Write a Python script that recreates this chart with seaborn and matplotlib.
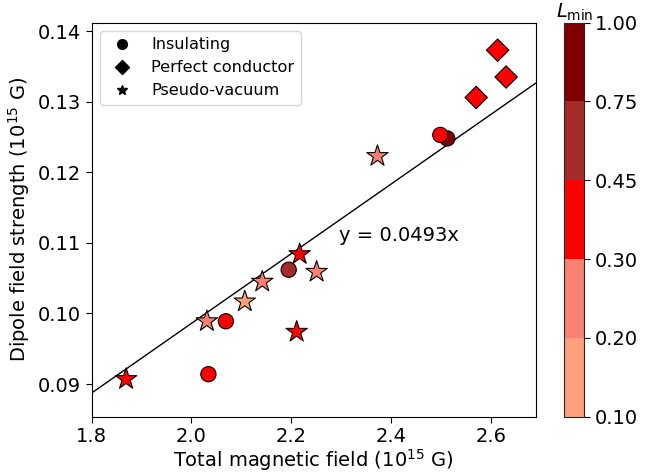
import numpy as np
import pandas as pd
import matplotlib
matplotlib.use("Agg")
import matplotlib.pyplot as plt
import matplotlib.colors as mcolors
from matplotlib.cm import ScalarMappable
from matplotlib.lines import Line2D
import seaborn as sns

# total field (1e15 G), dipole field (1e15 G), L_min, boundary model
ins_b = [2.034, 2.069, 2.195, 2.513, 2.499]
ins_d = [0.0914, 0.0989, 0.1062, 0.1248, 0.1253]
ins_l = [0.35, 0.35, 0.60, 0.90, 0.35]

pc_b = [2.614, 2.631, 2.571]
pc_d = [0.1373, 0.1335, 0.1306]
pc_l = [0.35, 0.35, 0.35]

pv_b = [1.869, 2.031, 2.107, 2.142, 2.217, 2.251, 2.211, 2.373]
pv_d = [0.0907, 0.0989, 0.1017, 0.1045, 0.1084, 0.1059, 0.0974, 0.1223]
pv_l = [0.35, 0.25, 0.15, 0.25, 0.35, 0.25, 0.35, 0.25]

slope = 0.0493
bounds = [0.10, 0.20, 0.30, 0.45, 0.75, 1.00]
colors = ["lightsalmon", "salmon", "red", "brown", "maroon"]

df = pd.concat([
    pd.DataFrame({"B": ins_b, "D": ins_d, "L": ins_l, "model": "Insulating"}),
    pd.DataFrame({"B": pc_b, "D": pc_d, "L": pc_l, "model": "Perfect conductor"}),
    pd.DataFrame({"B": pv_b, "D": pv_d, "L": pv_l, "model": "Pseudo-vacuum"}),
], ignore_index=True)

cmap = mcolors.ListedColormap(colors)
norm = mcolors.BoundaryNorm(bounds, cmap.N)
pal = {v: cmap(norm(v)) for v in df["L"].unique()}

sns.set_style("ticks")
plt.rcParams["font.family"] = ["DejaVu Sans"]
for k in ["text.color", "axes.labelcolor", "xtick.color", "ytick.color"]:
    plt.rcParams[k] = "black"

fig = plt.figure(figsize=(6.62, 4.72), dpi=100)
ax = fig.add_axes([0.1385, 0.117, 0.6705, 0.835])
cax = fig.add_axes([0.8524, 0.117, 0.0302, 0.835])

markers = {"Insulating": "o", "Perfect conductor": "D", "Pseudo-vacuum": "*"}
sizes = {"Insulating": 120, "Perfect conductor": 130, "Pseudo-vacuum": 260}
for m in markers:
    sub = df[df["model"] == m]
    sns.scatterplot(data=sub, x="B", y="D", hue="L", palette=pal,
                    marker=markers[m], s=sizes[m], edgecolor="black",
                    linewidth=0.8, legend=False, ax=ax, zorder=3)

xs = np.array([1.8, 2.69])
ax.plot(xs, slope * xs, color="black", lw=1, zorder=2)
ax.text(2.296, 0.1103, "y = 0.0493x", fontsize=14)

ax.set_xlim(1.8, 2.69)
ax.set_ylim(0.08537, 0.1412)
ax.set_xticks([1.8, 2.0, 2.2, 2.4, 2.6])
ax.set_yticks([0.09, 0.10, 0.11, 0.12, 0.13, 0.14])
ax.tick_params(labelsize=14, direction="out", length=4, width=0.8)
ax.set_xlabel(r"Total magnetic field ($10^{15}$ G)", fontsize=14, labelpad=1)
ax.set_ylabel(r"Dipole field strength ($10^{15}$ G)", fontsize=14, labelpad=4)
for sp in ax.spines.values():
    sp.set_linewidth(0.8)
    sp.set_color("black")

handles = [Line2D([], [], ls="none", marker=markers[m], color="black",
                  markersize=7) for m in markers]
ax.legend(handles, list(markers), loc="upper left", fontsize=11.6,
          frameon=True)

cb = fig.colorbar(ScalarMappable(norm=norm, cmap=cmap), cax=cax,
                  spacing="uniform", ticks=bounds)
cb.ax.set_yticklabels([f"{b:.2f}" for b in bounds])
cb.ax.tick_params(labelsize=14, length=4, width=0.8)
cb.outline.set_linewidth(0.8)
cb.ax.set_title(r"$L_{\rm min}$", fontsize=14, pad=2)

fig.savefig("out.png", dpi=100)
